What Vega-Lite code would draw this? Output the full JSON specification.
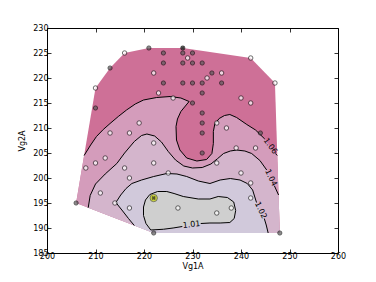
{
"$schema": "https://vega.github.io/schema/vega-lite/v6.json",
"width": 291, "height": 225,
"autosize": {"type": "none"},
"padding": {"left": 47, "top": 28, "right": 38, "bottom": 29},
"background": "white",
"config": {
  "view": {"stroke": "black", "strokeWidth": 1},
  "font": "DejaVu Sans",
  "axis": {"domain": false, "grid": false, "tickColor": "black", "tickSize": -4, "tickWidth": 0.8,
           "labelFont": "DejaVu Sans", "labelFontSize": 8, "labelColor": "black",
           "titleFont": "DejaVu Sans", "titleFontSize": 8, "titleFontWeight": "normal", "titleColor": "black"}
},
"datasets": {
  "hull": [{"o":1,"x":206,"y":195},{"o":2,"x":210,"y":218},{"o":3,"x":213,"y":222},{"o":4,"x":216,"y":225},{"o":5,"x":221,"y":226},{"o":6,"x":228,"y":226},{"o":7,"x":242,"y":224},{"o":8,"x":247,"y":219},{"o":9,"x":248,"y":189},{"o":10,"x":222,"y":189}],
  "l106": [{"s":"a","o":1,"x":207.65,"y":204.5},{"s":"a","o":2,"x":209,"y":206.6},{"s":"a","o":3,"x":210.2,"y":208.3},{"s":"a","o":4,"x":211.6,"y":209.7},{"s":"a","o":5,"x":213,"y":210.9},{"s":"a","o":6,"x":214.7,"y":212.3},{"s":"a","o":7,"x":216.4,"y":213.6},{"s":"a","o":8,"x":218.2,"y":214.8},{"s":"a","o":9,"x":219.9,"y":215.6},{"s":"a","o":10,"x":222.6,"y":216.1},{"s":"a","o":11,"x":225.4,"y":216.3},{"s":"a","o":12,"x":227.6,"y":216.0},{"s":"a","o":13,"x":229.3,"y":215.3},{"s":"a","o":14,"x":228.7,"y":214.6},{"s":"a","o":15,"x":227.6,"y":213.3},{"s":"a","o":16,"x":226.9,"y":211.8},{"s":"a","o":17,"x":226.6,"y":210.3},{"s":"a","o":18,"x":226.7,"y":207.6},{"s":"a","o":19,"x":227.4,"y":205.6},{"s":"a","o":20,"x":228.8,"y":204.0},{"s":"a","o":21,"x":230.9,"y":203.4},{"s":"a","o":22,"x":232.9,"y":203.7},{"s":"a","o":23,"x":234.0,"y":204.9},{"s":"a","o":24,"x":234.3,"y":206.9},{"s":"a","o":25,"x":234.3,"y":209.3},{"s":"a","o":26,"x":234.6,"y":210.8},{"s":"a","o":27,"x":235.5,"y":211.9},{"s":"a","o":28,"x":236.6,"y":212.5},{"s":"a","o":29,"x":237.7,"y":212.7},{"s":"a","o":30,"x":239.1,"y":212.1},{"s":"a","o":31,"x":241.2,"y":210.7},{"s":"a","o":32,"x":243.0,"y":209.6},{"s":"a","o":33,"x":244.9,"y":207.8},{"s":"b","o":34,"x":247.1,"y":204.9},{"s":"b","o":35,"x":247.48,"y":204.5}],
  "f106": [{"o":1,"x":207.65,"y":204.5},{"o":2,"x":209,"y":206.6},{"o":3,"x":210.2,"y":208.3},{"o":4,"x":211.6,"y":209.7},{"o":5,"x":213,"y":210.9},{"o":6,"x":214.7,"y":212.3},{"o":7,"x":216.4,"y":213.6},{"o":8,"x":218.2,"y":214.8},{"o":9,"x":219.9,"y":215.6},{"o":10,"x":222.6,"y":216.1},{"o":11,"x":225.4,"y":216.3},{"o":12,"x":227.6,"y":216.0},{"o":13,"x":229.3,"y":215.3},{"o":14,"x":228.7,"y":214.6},{"o":15,"x":227.6,"y":213.3},{"o":16,"x":226.9,"y":211.8},{"o":17,"x":226.6,"y":210.3},{"o":18,"x":226.7,"y":207.6},{"o":19,"x":227.4,"y":205.6},{"o":20,"x":228.8,"y":204.0},{"o":21,"x":230.9,"y":203.4},{"o":22,"x":232.9,"y":203.7},{"o":23,"x":234.0,"y":204.9},{"o":24,"x":234.3,"y":206.9},{"o":25,"x":234.3,"y":209.3},{"o":26,"x":234.6,"y":210.8},{"o":27,"x":235.5,"y":211.9},{"o":28,"x":236.6,"y":212.5},{"o":29,"x":237.7,"y":212.7},{"o":30,"x":239.1,"y":212.1},{"o":31,"x":241.2,"y":210.7},{"o":32,"x":243.0,"y":209.6},{"o":33,"x":244.9,"y":207.8},{"o":34,"x":247.1,"y":204.9},{"o":35,"x":247.48,"y":204.5},{"o":36,"x":248,"y":189},{"o":37,"x":222,"y":189},{"o":38,"x":206,"y":195}],
  "l104": [{"s":"c","o":1,"x":208.5,"y":194.06},{"s":"c","o":2,"x":208.9,"y":196.5},{"s":"c","o":3,"x":210,"y":198.8},{"s":"c","o":4,"x":212,"y":200.8},{"s":"c","o":5,"x":214.4,"y":202.9},{"s":"c","o":6,"x":216,"y":205},{"s":"c","o":7,"x":218,"y":207.3},{"s":"c","o":8,"x":219.5,"y":208.5},{"s":"c","o":9,"x":220.6,"y":208.8},{"s":"c","o":10,"x":222.2,"y":208.4},{"s":"c","o":11,"x":223.6,"y":207.2},{"s":"c","o":12,"x":225,"y":205.3},{"s":"c","o":13,"x":226.5,"y":203.6},{"s":"c","o":14,"x":228.2,"y":202.4},{"s":"c","o":15,"x":230,"y":202},{"s":"c","o":16,"x":232,"y":202.1},{"s":"c","o":17,"x":233.8,"y":202.8},{"s":"c","o":18,"x":235.2,"y":203.9},{"s":"c","o":19,"x":236.4,"y":204.9},{"s":"c","o":20,"x":237.8,"y":205.4},{"s":"c","o":21,"x":239.1,"y":205.6},{"s":"c","o":22,"x":240.8,"y":205.4},{"s":"c","o":23,"x":242.2,"y":204.9},{"s":"c","o":24,"x":243.9,"y":203.5},{"s":"c","o":25,"x":245.3,"y":201.6},{"s":"d","o":26,"x":246.9,"y":198.4},{"s":"d","o":27,"x":247.75,"y":196.6}],
  "f104": [{"o":1,"x":208.5,"y":194.06},{"o":2,"x":208.9,"y":196.5},{"o":3,"x":210,"y":198.8},{"o":4,"x":212,"y":200.8},{"o":5,"x":214.4,"y":202.9},{"o":6,"x":216,"y":205},{"o":7,"x":218,"y":207.3},{"o":8,"x":219.5,"y":208.5},{"o":9,"x":220.6,"y":208.8},{"o":10,"x":222.2,"y":208.4},{"o":11,"x":223.6,"y":207.2},{"o":12,"x":225,"y":205.3},{"o":13,"x":226.5,"y":203.6},{"o":14,"x":228.2,"y":202.4},{"o":15,"x":230,"y":202},{"o":16,"x":232,"y":202.1},{"o":17,"x":233.8,"y":202.8},{"o":18,"x":235.2,"y":203.9},{"o":19,"x":236.4,"y":204.9},{"o":20,"x":237.8,"y":205.4},{"o":21,"x":239.1,"y":205.6},{"o":22,"x":240.8,"y":205.4},{"o":23,"x":242.2,"y":204.9},{"o":24,"x":243.9,"y":203.5},{"o":25,"x":245.3,"y":201.6},{"o":26,"x":246.9,"y":198.4},{"o":27,"x":247.75,"y":196.6},{"o":28,"x":248,"y":189},{"o":29,"x":222,"y":189}],
  "l102": [{"s":"e","o":1,"x":218,"y":190.5},{"s":"e","o":2,"x":216.8,"y":191.9},{"s":"e","o":3,"x":215.6,"y":193.4},{"s":"e","o":4,"x":214.2,"y":195.1},{"s":"e","o":5,"x":215.2,"y":196.6},{"s":"e","o":6,"x":216.3,"y":197.9},{"s":"e","o":7,"x":217.5,"y":198.9},{"s":"e","o":8,"x":219.5,"y":199.6},{"s":"e","o":9,"x":222,"y":200.3},{"s":"e","o":10,"x":224.7,"y":200.9},{"s":"e","o":11,"x":226.8,"y":200.8},{"s":"e","o":12,"x":228.8,"y":200.3},{"s":"e","o":13,"x":231.2,"y":199.4},{"s":"e","o":14,"x":233.6,"y":198.9},{"s":"e","o":15,"x":235.7,"y":199.6},{"s":"e","o":16,"x":237.8,"y":199.9},{"s":"e","o":17,"x":239.8,"y":199.6},{"s":"e","o":18,"x":241.3,"y":198.9},{"s":"e","o":19,"x":242.4,"y":197.6},{"s":"e","o":20,"x":243.2,"y":195.1},{"s":"f","o":21,"x":244.8,"y":191.9},{"s":"f","o":22,"x":245.2,"y":190.6},{"s":"f","o":23,"x":245.6,"y":189.0}],
  "f102": [{"o":1,"x":218,"y":190.5},{"o":2,"x":216.8,"y":191.9},{"o":3,"x":215.6,"y":193.4},{"o":4,"x":214.2,"y":195.1},{"o":5,"x":215.2,"y":196.6},{"o":6,"x":216.3,"y":197.9},{"o":7,"x":217.5,"y":198.9},{"o":8,"x":219.5,"y":199.6},{"o":9,"x":222,"y":200.3},{"o":10,"x":224.7,"y":200.9},{"o":11,"x":226.8,"y":200.8},{"o":12,"x":228.8,"y":200.3},{"o":13,"x":231.2,"y":199.4},{"o":14,"x":233.6,"y":198.9},{"o":15,"x":235.7,"y":199.6},{"o":16,"x":237.8,"y":199.9},{"o":17,"x":239.8,"y":199.6},{"o":18,"x":241.3,"y":198.9},{"o":19,"x":242.4,"y":197.6},{"o":20,"x":243.2,"y":195.1},{"o":21,"x":244.8,"y":191.9},{"o":22,"x":245.2,"y":190.6},{"o":23,"x":245.6,"y":189.0},{"o":24,"x":222,"y":189}],
  "l101": [{"s":"g","o":1,"x":231.7,"y":190.9},{"s":"g","o":2,"x":233.6,"y":191.0},{"s":"g","o":3,"x":235.7,"y":191.0},{"s":"g","o":4,"x":237.7,"y":191.1},{"s":"g","o":5,"x":238.6,"y":191.9},{"s":"g","o":6,"x":238.9,"y":193.5},{"s":"g","o":7,"x":238.5,"y":195.2},{"s":"g","o":8,"x":237.2,"y":196.1},{"s":"g","o":9,"x":235.3,"y":196.3},{"s":"g","o":10,"x":233.6,"y":195.8},{"s":"g","o":11,"x":231.2,"y":195.8},{"s":"g","o":12,"x":228.1,"y":196.3},{"s":"g","o":13,"x":226.2,"y":196.9},{"s":"g","o":14,"x":224.7,"y":197.3},{"s":"g","o":15,"x":222.8,"y":197.3},{"s":"g","o":16,"x":221.2,"y":196.7},{"s":"g","o":17,"x":220.3,"y":195.6},{"s":"g","o":18,"x":219.9,"y":194.2},{"s":"g","o":19,"x":219.9,"y":192.5},{"s":"g","o":20,"x":220.4,"y":190.9},{"s":"g","o":21,"x":221.4,"y":189.6},{"s":"g","o":22,"x":224,"y":189.75},{"s":"g","o":23,"x":226,"y":190.0},{"s":"g","o":24,"x":227.9,"y":190.3}],
  "f101": [{"o":1,"x":231.7,"y":190.9},{"o":2,"x":233.6,"y":191.0},{"o":3,"x":235.7,"y":191.0},{"o":4,"x":237.7,"y":191.1},{"o":5,"x":238.6,"y":191.9},{"o":6,"x":238.9,"y":193.5},{"o":7,"x":238.5,"y":195.2},{"o":8,"x":237.2,"y":196.1},{"o":9,"x":235.3,"y":196.3},{"o":10,"x":233.6,"y":195.8},{"o":11,"x":231.2,"y":195.8},{"o":12,"x":228.1,"y":196.3},{"o":13,"x":226.2,"y":196.9},{"o":14,"x":224.7,"y":197.3},{"o":15,"x":222.8,"y":197.3},{"o":16,"x":221.2,"y":196.7},{"o":17,"x":220.3,"y":195.6},{"o":18,"x":219.9,"y":194.2},{"o":19,"x":219.9,"y":192.5},{"o":20,"x":220.4,"y":190.9},{"o":21,"x":221.4,"y":189.6},{"o":22,"x":224,"y":189.75},{"o":23,"x":226,"y":190.0},{"o":24,"x":227.9,"y":190.3},{"o":25,"x":229.8,"y":190.6}],
  "pdark": [{"x":221,"y":226},{"x":228,"y":226},{"x":224,"y":225},{"x":228,"y":225},{"x":230,"y":225},{"x":224,"y":223},{"x":228,"y":223},{"x":230,"y":223},{"x":232,"y":223},{"x":213,"y":222},{"x":234,"y":221},{"x":224,"y":219},{"x":228,"y":219},{"x":230,"y":219},{"x":232,"y":219},{"x":236,"y":219},{"x":232,"y":217},{"x":230,"y":215},{"x":210,"y":214},{"x":232,"y":213},{"x":232,"y":211},{"x":232,"y":209},{"x":232,"y":205},{"x":244,"y":209},{"x":206,"y":195},{"x":222,"y":189},{"x":248,"y":189}],
  "pwhite": [{"x":216,"y":225},{"x":229,"y":224},{"x":242,"y":224},{"x":222,"y":221},{"x":236,"y":221},{"x":233,"y":220},{"x":210,"y":218},{"x":247,"y":219},{"x":223,"y":217},{"x":226,"y":216},{"x":240,"y":216},{"x":242,"y":215},{"x":219,"y":211},{"x":235,"y":211},{"x":237,"y":210},{"x":213,"y":209},{"x":217,"y":209},{"x":222,"y":207},{"x":239,"y":206},{"x":243,"y":206},{"x":212,"y":204},{"x":210,"y":203},{"x":235,"y":203},{"x":208,"y":202},{"x":216,"y":202},{"x":222,"y":203},{"x":225,"y":201},{"x":240,"y":201},{"x":217,"y":200},{"x":242,"y":199},{"x":211,"y":197},{"x":242,"y":196},{"x":214,"y":195},{"x":217,"y":194},{"x":227,"y":194},{"x":238,"y":194},{"x":235,"y":193}],
  "pyellow": [{"x":222,"y":196}],
  "pcross": [{"x":228,"y":226},{"x":222,"y":196}]
},
"resolve": {"axis": {"x": "independent", "y": "independent"}},
"layer": [
 {
  "encoding": {
    "x": {"field": "x", "type": "quantitative", "scale": {"domain": [200, 260], "nice": false, "zero": false},
          "axis": {"values": [200,210,220,230,240,250,260], "format": "d", "labelPadding": 3, "title": "Vg1A", "titlePadding": 2, "labelFlush": false}},
    "y": {"field": "y", "type": "quantitative", "scale": {"domain": [185, 230], "nice": false, "zero": false},
          "axis": {"values": [185,190,195,200,205,210,215,220,225,230], "format": "d", "labelPadding": 3, "title": "Vg2A", "titlePadding": 6}}
  },
  "layer": [
   {"data": {"name": "hull"}, "mark": {"type": "line", "filled": true, "color": "#ce7097", "strokeWidth": 0}, "encoding": {"order": {"field": "o", "type": "quantitative"}}},
   {"data": {"name": "f106"}, "mark": {"type": "line", "filled": true, "color": "#d49cbb", "strokeWidth": 0}, "encoding": {"order": {"field": "o", "type": "quantitative"}}},
   {"data": {"name": "f104"}, "mark": {"type": "line", "filled": true, "color": "#d4b5cc", "strokeWidth": 0}, "encoding": {"order": {"field": "o", "type": "quantitative"}}},
   {"data": {"name": "f102"}, "mark": {"type": "line", "filled": true, "color": "#d1c9db", "strokeWidth": 0}, "encoding": {"order": {"field": "o", "type": "quantitative"}}},
   {"data": {"name": "f101"}, "mark": {"type": "line", "filled": true, "color": "#cfcfcf", "strokeWidth": 0}, "encoding": {"order": {"field": "o", "type": "quantitative"}}},
   {"data": {"name": "l106"}, "mark": {"type": "line", "color": "black", "strokeWidth": 1}, "encoding": {"order": {"field": "o", "type": "quantitative"}, "detail": {"field": "s"}}},
   {"data": {"name": "l104"}, "mark": {"type": "line", "color": "black", "strokeWidth": 1}, "encoding": {"order": {"field": "o", "type": "quantitative"}, "detail": {"field": "s"}}},
   {"data": {"name": "l102"}, "mark": {"type": "line", "color": "black", "strokeWidth": 1}, "encoding": {"order": {"field": "o", "type": "quantitative"}, "detail": {"field": "s"}}},
   {"data": {"name": "l101"}, "mark": {"type": "line", "color": "black", "strokeWidth": 1}, "encoding": {"order": {"field": "o", "type": "quantitative"}, "detail": {"field": "s"}}},
   {"data": {"values": [{"t":"1.06","x":246.0,"y":206.35}]}, "mark": {"type": "text", "fontSize": 8, "angle": 54, "color": "black", "align": "center", "baseline": "middle"}, "encoding": {"text": {"field": "t"}}},
   {"data": {"values": [{"t":"1.04","x":246.1,"y":200.0}]}, "mark": {"type": "text", "fontSize": 8, "angle": 64, "color": "black", "align": "center", "baseline": "middle"}, "encoding": {"text": {"field": "t"}}},
   {"data": {"values": [{"t":"1.02","x":244.0,"y":193.5}]}, "mark": {"type": "text", "fontSize": 8, "angle": 64, "color": "black", "align": "center", "baseline": "middle"}, "encoding": {"text": {"field": "t"}}},
   {"data": {"values": [{"t":"1.01","x":229.8,"y":190.6}]}, "mark": {"type": "text", "fontSize": 8, "angle": -6, "color": "black", "align": "center", "baseline": "middle"}, "encoding": {"text": {"field": "t"}}},
   {"data": {"name": "pdark"}, "mark": {"type": "point", "shape": "circle", "filled": true, "fill": "#5a5a5a", "stroke": "black", "strokeWidth": 0.8, "size": 18}, "encoding": {}},
   {"data": {"name": "pwhite"}, "mark": {"type": "point", "shape": "circle", "filled": true, "fill": "white", "stroke": "black", "strokeWidth": 0.8, "size": 20}, "encoding": {}},
   {"data": {"name": "pyellow"}, "mark": {"type": "point", "shape": "circle", "filled": true, "fill": "#cdd800", "stroke": "#333333", "strokeWidth": 0.8, "size": 55}, "encoding": {}},
   {"data": {"name": "pcross"}, "mark": {"type": "point", "shape": "cross", "angle": 45, "filled": true, "fill": "#222222", "strokeWidth": 0, "size": 18}, "encoding": {}}
  ]
 },
 {
  "data": {"name": "hull"},
  "mark": {"type": "point", "opacity": 0},
  "encoding": {
    "x": {"field": "x", "type": "quantitative", "scale": {"domain": [200, 260], "nice": false, "zero": false},
          "axis": {"orient": "top", "values": [200,210,220,230,240,250,260], "labels": false, "title": null}},
    "y": {"field": "y", "type": "quantitative", "scale": {"domain": [185, 230], "nice": false, "zero": false},
          "axis": {"orient": "right", "values": [185,190,195,200,205,210,215,220,225,230], "labels": false, "title": null}}
  }
 }
]
}
